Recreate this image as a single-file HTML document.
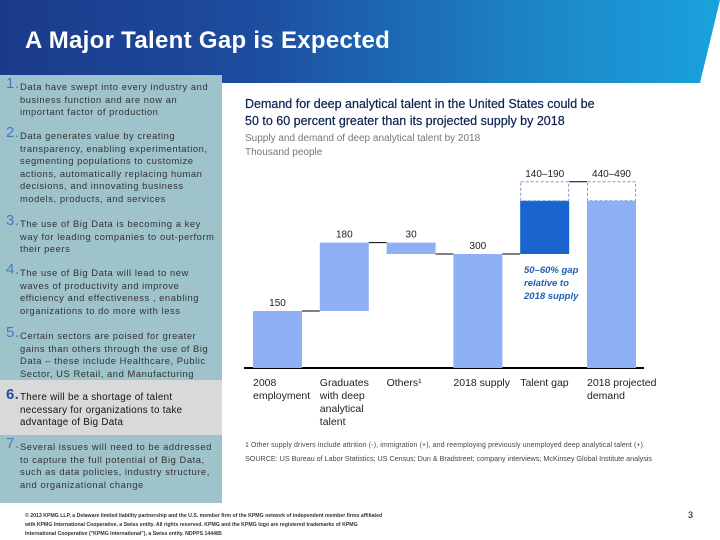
<!DOCTYPE html>
<html><head><meta charset="utf-8"><style>
body{margin:0;width:720px;height:540px;overflow:hidden;background:#fff;font-family:"Liberation Sans",sans-serif;position:relative}
.hdr{position:absolute;left:0;top:0;width:720px;height:83px;background:linear-gradient(90deg,#1b3a8a 0%,#1d4c9e 35%,#1c86c8 75%,#1aa2dc 100%);clip-path:polygon(0 0,720px 0,700px 83px,0 83px)}
.title{position:absolute;left:25px;top:27px;color:#fff;font-size:24px;font-weight:bold;letter-spacing:.3px}
.panel{position:absolute;left:0;top:75px;width:222px;height:428px;background:#9fc3ca}
.grey{position:absolute;left:0;top:380px;width:222px;height:55px;background:#d9d9d9}
.it{position:absolute;left:20px;width:196px;font-size:9.4px;line-height:12.5px;color:#333;letter-spacing:.55px}
.it b{position:absolute;left:-14px;top:-3px;font-weight:normal;font-size:15px;color:#3f7dc0}
.foot{position:absolute;left:25px;top:512px;font-size:5.2px;line-height:9px;color:#333;width:365px;font-weight:bold}
</style></head><body>
<div class="hdr"></div>
<div class="title">A Major Talent Gap is Expected</div>
<div class="panel"></div>
<div class="grey"></div>
<div class="it" style="top:81px"><b>1.</b>Data have swept into every industry and business function and are now an important factor of production</div>
<div class="it" style="top:130px"><b>2.</b>Data generates value by creating transparency, enabling experimentation, segmenting populations to customize actions, automatically replacing human decisions, and innovating business models, products, and services</div>
<div class="it" style="top:218px"><b>3.</b>The use of Big Data is becoming a key way for leading companies to out-perform their peers</div>
<div class="it" style="top:267px"><b>4.</b>The use of Big Data will lead to new waves of productivity and improve efficiency and effectiveness , enabling organizations to do more with less</div>
<div class="it" style="top:330px"><b>5.</b>Certain sectors are poised for greater gains than others through the use of Big Data – these include Healthcare, Public Sector, US Retail, and Manufacturing</div>
<div class="it" style="top:392px;color:#111;font-size:9.8px;letter-spacing:.3px"><b style="font-weight:bold;color:#1f4e9a">6.</b>There will be a shortage of talent necessary for organizations to take advantage of Big Data</div>
<div class="it" style="top:441px"><b>7.</b>Several issues will need to be addressed to capture the full potential of Big Data, such as data policies, industry structure, and organizational change</div>
<div class="foot">© 2013 KPMG LLP, a Delaware limited liability partnership and the U.S. member firm of the KPMG network of independent member firms affiliated with KPMG International Cooperative, a Swiss entity. All rights reserved. KPMG and the KPMG logo are registered trademarks of KPMG International Cooperative ("KPMG International"), a Swiss entity. NDPPS 144485</div>
<div style="position:absolute;left:688px;top:510px;font-size:9px">3</div>
<svg id="ch" width="720" height="540" style="position:absolute;left:0;top:0">
<text x="245" y="108" font-size="12.5" fill="#0b2150" stroke="#0b2150" stroke-width="0.2">Demand for deep analytical talent in the United States could be</text>
<text x="245" y="125" font-size="12.5" fill="#0b2150" stroke="#0b2150" stroke-width="0.2">50 to 60 percent greater than its projected supply by 2018</text>
<text x="245" y="141" font-size="10" fill="#777">Supply and demand of deep analytical talent by 2018</text>
<text x="245" y="155" font-size="10" fill="#777">Thousand people</text>
<line x1="244" y1="368" x2="644" y2="368" stroke="#000" stroke-width="2"/>
<text x="245" y="447" font-size="6.9" fill="#444" textLength="400">1  Other supply drivers include attrition (-), immigration (+), and reemploying previously unemployed deep analytical talent (+).</text>
<text x="245" y="461" font-size="7.2" fill="#444" textLength="407">SOURCE: US Bureau of Labor Statistics; US Census; Dun &amp; Bradstreet; company interviews; McKinsey Global Institute analysis</text>
<text x="524" y="273" font-size="9.5" font-style="italic" font-weight="bold" fill="#1f5fb4"><tspan x="524">50–60% gap</tspan><tspan x="524" dy="13">relative to</tspan><tspan x="524" dy="13">2018 supply</tspan></text>
</svg>
<script>
const categories=["2008|employment","Graduates|with deep|analytical|talent","Others¹","2018 supply","Talent gap","2018 projected|demand"];
const valueLabels=["150","180","30","300","140–190","440–490"];
const lowVals=[150,180,-30,300,140,440];
const highVals=[150,180,-30,300,190,490];
const svg=document.getElementById('ch');const NS="http://www.w3.org/2000/svg";
const base=368,sc=0.38,x0=253,step=66.8,bw=49;
const y=v=>base-v*sc;
function mk(t,a){const e=document.createElementNS(NS,t);for(const k in a)e.setAttribute(k,a[k]);svg.appendChild(e);return e;}
let run=0;
categories.forEach((c,i)=>{
  const x=x0+i*step;let top,bot,dTop;
  if(i===0||i===3||i===5){bot=0;top=lowVals[i];dTop=highVals[i];run=lowVals[i];}
  else if(i===4){bot=run;top=run+lowVals[i];dTop=run+highVals[i];}
  else{const s=run;run+=lowVals[i];bot=Math.min(s,run);top=Math.max(s,run);dTop=top;}
  const r=mk('rect',{x:x,y:y(top),width:bw,height:y(bot)-y(top),fill:i===4?'#1a64d0':'#8fb0f4'});
  
  
  if(dTop>top){const d=mk('rect',{x:x+.5,y:y(dTop),width:bw-1,height:y(top)-y(dTop),fill:'none',stroke:'#7aa0d0','stroke-dasharray':'3,2'});
    
    }
  const t=mk('text',{x:x+bw/2,y:y(dTop)-5,'text-anchor':'middle','font-size':10,fill:'#222'});t.textContent=valueLabels[i];
  
  
  const lab=mk('text',{x:x,y:386,'font-size':10.5,fill:'#222'});
  
  
  c.split('|').forEach((s,j)=>{const ts=document.createElementNS(NS,'tspan');ts.setAttribute('x',x);ts.setAttribute('dy',j?13:0);ts.textContent=s;lab.appendChild(ts);});
  if(i<5){const ly=(i===2||i===3)?y(run):y(i===4?dTop:top);
    const cn=mk('line',{x1:x+bw,x2:x+step,y1:ly,y2:ly,stroke:'#000','stroke-width':1});
    
    }
});
</script>
</body></html>
